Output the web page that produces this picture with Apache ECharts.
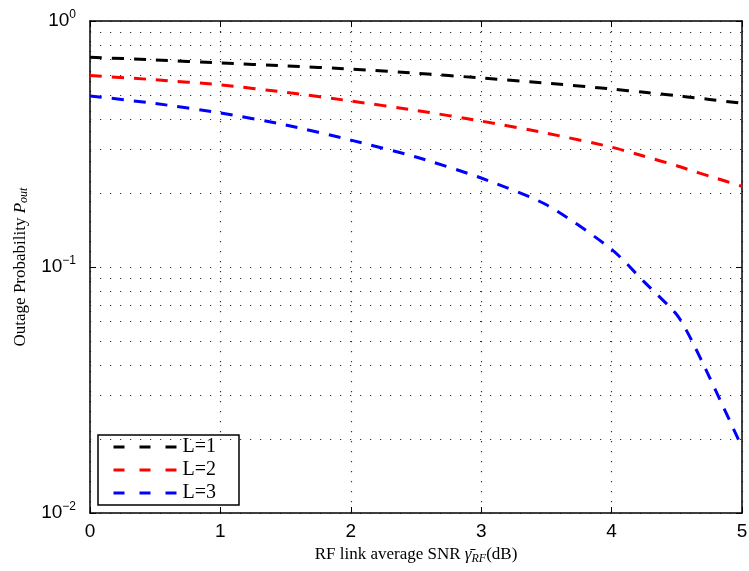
<!DOCTYPE html>
<html><head><meta charset="utf-8">
<script src="https://cdn.jsdelivr.net/npm/echarts@6/dist/echarts.min.js"></script>
<style>html,body{margin:0;padding:0;background:#fff}#c{width:749px;height:571px}</style>
</head><body><div id="c"></div>
<script>
var xValues = [0, 0.5, 1, 1.5, 2, 2.5, 3, 3.5, 4, 4.25, 4.5, 4.6, 4.75, 5];
var seriesL1 = [0.712, 0.695, 0.675, 0.657, 0.638, 0.613, 0.587, 0.559, 0.529, 0.513, 0.497, 0.490, 0.480, 0.463];
var seriesL2 = [0.600, 0.577, 0.550, 0.513, 0.473, 0.433, 0.392, 0.350, 0.307, 0.282, 0.258, 0.248, 0.234, 0.213];
var seriesL3 = [0.496, 0.462, 0.423, 0.378, 0.328, 0.280, 0.230, 0.179, 0.118, 0.087, 0.064, 0.052, 0.0357, 0.0185];
var seriesNames = ['L=1', 'L=2', 'L=3'];
var seriesColors = ['#000000', '#ff0000', '#0000ff'];
var xTicks = [0, 1, 2, 3, 4, 5];
var minorGridValues = [0.02,0.03,0.04,0.05,0.06,0.07,0.08,0.09,0.2,0.3,0.4,0.5,0.6,0.7,0.8,0.9];

function pairs(ys){ return xValues.map(function(x,i){return [x, ys[i]];}); }

var dotted = {color:'#333', width:1.2, type:[1.2,8.8]};
var chart = echarts.init(document.getElementById('c'));
var allData = [seriesL1, seriesL2, seriesL3];
var series = allData.map(function(d,i){
  return {
    name: seriesNames[i], type:'line', data: pairs(d), showSymbol:false, symbol:'none',
    smooth: 0.25,
    lineStyle:{color:seriesColors[i], width:3, type:[12,10]},
    itemStyle:{color:seriesColors[i]}, z: 5
  };
});
series.push({
  name:'grid', type:'line', data:[], silent:true, z:1,
  markLine:{silent:true, symbol:'none', label:{show:false}, lineStyle:dotted,
    data: minorGridValues.map(function(v){return {yAxis:v};})}
});
var tickStyle = {show:true, inside:true, length:6, lineStyle:{color:'#000', width:1}};
chart.setOption({
  animation:false,
  grid:{left:90, right:7, top:21, bottom:58, containLabel:false, outerBoundsMode:'none'},
  legend:{
    left:98, top:435, orient:'vertical', itemWidth:64, itemHeight:12, itemGap:3,
    borderColor:'#000', borderWidth:1.5, padding:[2,23,2,14], backgroundColor:'#fff',
    textStyle:{fontFamily:'Liberation Serif', fontSize:20, color:'#000', lineHeight:19},
    data: seriesNames.map(function(n,i){return {name:n,
      itemStyle:{opacity:0},
      lineStyle:{type:[11,15], width:3, color:seriesColors[i]}};})
  },
  xAxis:[{
    type:'value', min:0, max:5, interval:1, position:'bottom',
    axisLine:{show:true, onZero:false, lineStyle:{color:'#000', width:1.5}},
    axisTick:tickStyle,
    axisLabel:{fontFamily:'Liberation Sans', fontSize:19, color:'#000', margin:9},
    splitLine:{show:true, lineStyle:dotted},
    name:'{n|RF link average SNR }{g|γ̄}{s|RF}{n|(dB)}', nameLocation:'middle', nameGap:32,
    nameTextStyle:{rich:{
      n:{fontFamily:'Liberation Serif', fontSize:17, color:'#000'},
      g:{fontFamily:'Liberation Serif', fontSize:17, fontStyle:'italic', color:'#000'},
      s:{fontFamily:'Liberation Serif', fontSize:12, fontStyle:'italic', color:'#000', padding:[8,0,0,0]}
    }}
  },{
    type:'value', min:0, max:5, interval:1, position:'top',
    axisLine:{show:true, onZero:false, lineStyle:{color:'#000', width:1.5}},
    axisTick:tickStyle, axisLabel:{show:false}, splitLine:{show:false}
  }],
  yAxis:[{
    type:'log', logBase:10, min:0.01, max:1, position:'left',
    axisLine:{show:true, onZero:false, lineStyle:{color:'#000', width:1.5}},
    axisTick:tickStyle,
    splitLine:{show:true, lineStyle:dotted},
    axisLabel:{margin:14, formatter:function(v){
        var e = Math.round(Math.log10(v));
        return '{b|10}{e|' + (e<0 ? '−'+(-e) : e) + '}';
      },
      rich:{
        b:{fontFamily:'Liberation Sans', fontSize:19, color:'#000'},
        e:{fontFamily:'Liberation Sans', fontSize:12, color:'#000', verticalAlign:'top', padding:[0,0,12,0]}
      }},
    name:'{n|Outage Probability }{i|P}{s|out}', nameLocation:'middle', nameGap:58, nameRotate:90,
    nameTextStyle:{rich:{
      n:{fontFamily:'Liberation Serif', fontSize:17, color:'#000'},
      i:{fontFamily:'Liberation Serif', fontSize:17, fontStyle:'italic', color:'#000'},
      s:{fontFamily:'Liberation Serif', fontSize:12, fontStyle:'italic', color:'#000', padding:[8,0,0,0]}
    }}
  },{
    type:'log', logBase:10, min:0.01, max:1, position:'right',
    axisLine:{show:true, onZero:false, lineStyle:{color:'#000', width:1.5}},
    axisTick:tickStyle, axisLabel:{show:false}, splitLine:{show:false}
  }],
  series: series
});
</script></body></html>
